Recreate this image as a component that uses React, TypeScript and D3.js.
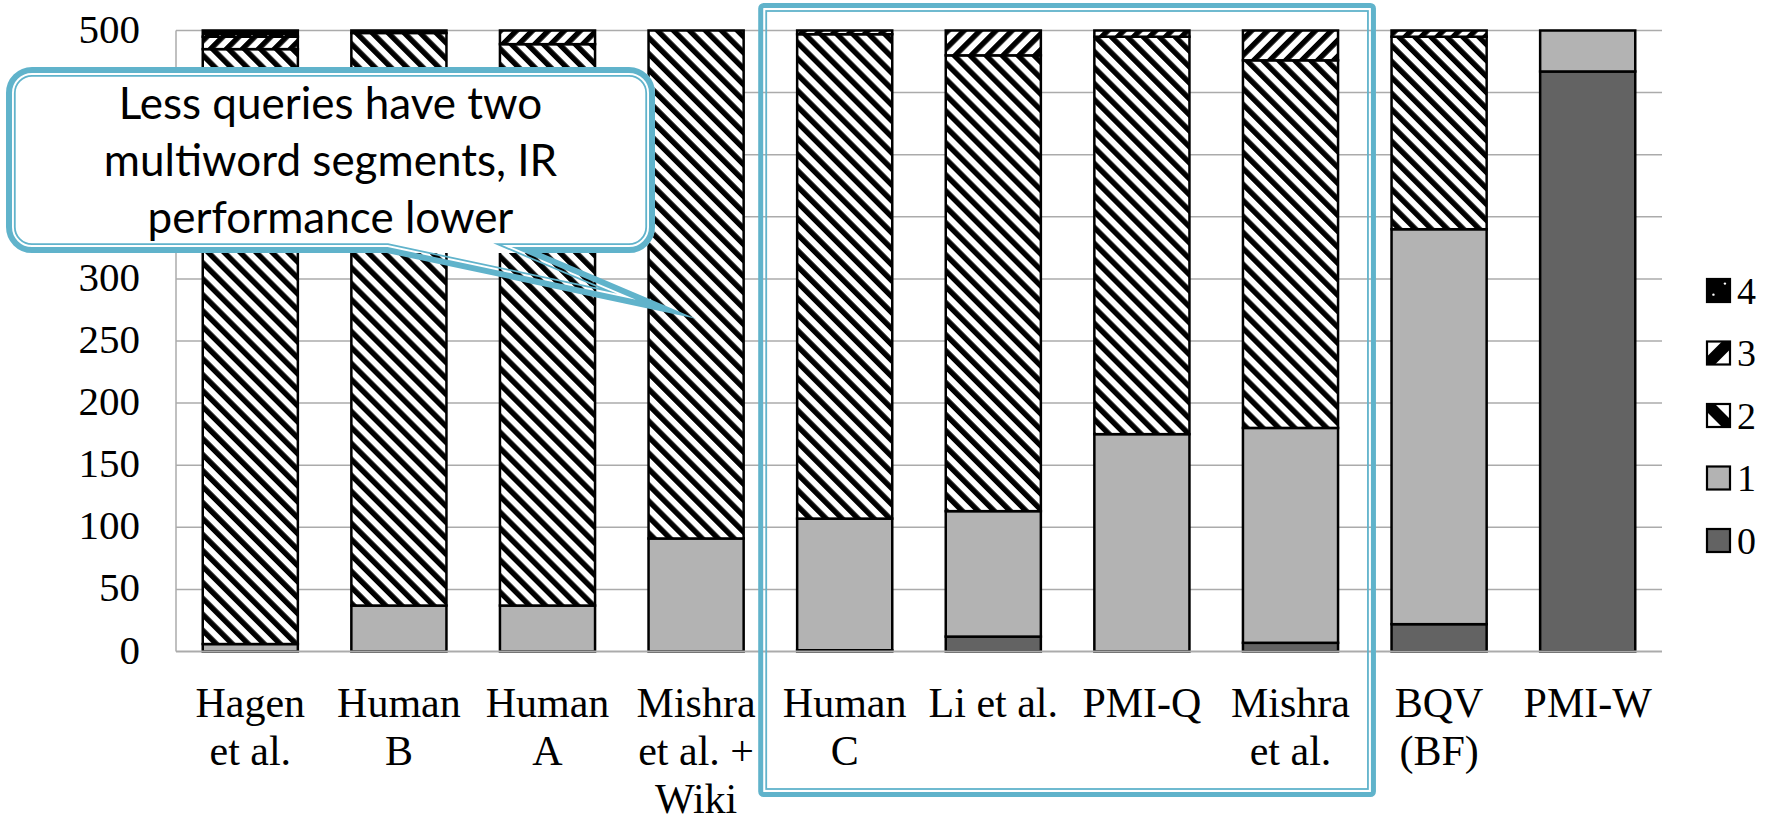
import React from "react";
import * as d3 from "d3";

// Number of multiword segments per query, per segmentation method (stacked to 500 queries)
const categories = [
  "Hagen et al.",
  "Human B",
  "Human A",
  "Mishra et al. + Wiki",
  "Human C",
  "Li et al.",
  "PMI-Q",
  "Mishra et al.",
  "BQV (BF)",
  "PMI-W",
];
const categoryLines = [
  ["Hagen", "et al."],
  ["Human", "B"],
  ["Human", "A"],
  ["Mishra", "et al. +", "Wiki"],
  ["Human", "C"],
  ["Li et al."],
  ["PMI-Q"],
  ["Mishra", "et al."],
  ["BQV", "(BF)"],
  ["PMI-W"],
];
const seriesKeys = ["0", "1", "2", "3", "4"];
const seg0 = [0, 0, 0, 0, 1, 12, 0, 7, 22, 467];
const seg1 = [6, 37, 37, 91, 106, 101, 175, 173, 318, 33];
const seg2 = [479, 461, 452, 409, 390, 367, 320, 296, 155, 0];
const seg3 = [10, 2, 11, 0, 3, 20, 5, 24, 5, 0];
const seg4 = [5, 0, 0, 0, 0, 0, 0, 0, 0, 0];
const yTicks = [0, 50, 100, 150, 200, 250, 300, 350, 400, 450, 500];
const highlightFrom = "Human C";
const highlightTo = "Mishra et al.";
const calloutLines = ["Less queries have two", "multiword segments, IR", "performance lower"];
const calloutCategory = "Mishra et al. + Wiki";
const calloutValue = 268;

const W = 1768;
const H = 822;
const SERIF = "'Liberation Serif', 'Times New Roman', serif";
const SANS = "Lato, 'Open Sans', sans-serif";
const BLUE = "#60b3cb";
const GRID = "#ababab";

const fills: Record<string, string> = {
  "0": "#636363",
  "1": "#b3b3b3",
  "2": "url(#hatch2)",
  "3": "url(#hatch3)",
  "4": "url(#dots4)",
};

type Pt = [number, number];
const cross = (a: Pt, b: Pt) => a[0] * b[1] - a[1] * b[0];
const unit = (x: number, y: number): Pt => {
  const l = Math.hypot(x, y);
  return [x / l, y / l];
};

type Box = { x0: number; y0: number; x1: number; y1: number; r: number; baseL: number; baseR: number };

// Rounded callout box with a wedge tail, inset by d from its outer edge
function calloutPath(box: Box, tip: Pt, d: number, withTail = true) {
  const X0 = box.x0 + d, Y0 = box.y0 + d, X1 = box.x1 - d, Y1 = box.y1 - d, R = box.r - d;
  const A: Pt = [box.baseL, box.y1];
  const B: Pt = [box.baseR, box.y1];
  const D1: Pt = [tip[0] - B[0], tip[1] - B[1]];
  const D2: Pt = [A[0] - tip[0], A[1] - tip[1]];
  const n1 = unit(-D1[1], D1[0]);
  const n2 = unit(-D2[1], D2[0]);
  const P1: Pt = [B[0] + d * n1[0], B[1] + d * n1[1]];
  const P2: Pt = [tip[0] + d * n2[0], tip[1] + d * n2[1]];
  const bx = P1[0] + (D1[0] * (Y1 - P1[1])) / D1[1];
  const ax = P2[0] + (D2[0] * (Y1 - P2[1])) / D2[1];
  const t = cross([P2[0] - P1[0], P2[1] - P1[1]], D2) / cross(D1, D2);
  const T: Pt = [P1[0] + t * D1[0], P1[1] + t * D1[1]];
  const tail = withTail ? `H${bx}L${T[0]},${T[1]}L${ax},${Y1}` : "";
  return (
    `M${X0 + R},${Y0}H${X1 - R}A${R},${R} 0 0 1 ${X1},${Y0 + R}` +
    `V${Y1 - R}A${R},${R} 0 0 1 ${X1 - R},${Y1}` +
    tail +
    `H${X0 + R}A${R},${R} 0 0 1 ${X0},${Y1 - R}V${Y0 + R}A${R},${R} 0 0 1 ${X0 + R},${Y0}Z`
  );
}

export default function App() {
  const rows = categories.map((c, i) => ({
    category: c,
    "0": seg0[i],
    "1": seg1[i],
    "2": seg2[i],
    "3": seg3[i],
    "4": seg4[i],
  }));
  const stacked = d3.stack<any>().keys(seriesKeys)(rows);

  const x = d3
    .scaleBand<string>()
    .domain(categories)
    .range([176, 1662])
    .paddingInner(0.36)
    .paddingOuter(0.18);
  const y = d3.scaleLinear().domain([0, 500]).range([651.5, 30.5]);
  const bw = x.bandwidth();
  const step = x.step();

  const hlLeft = (x(highlightFrom) as number) - step * 0.262;
  const hlRight = (x(highlightTo) as number) + bw + step * 0.255;

  const box: Box = { x0: 6, y0: 67, x1: 655, y1: 253, r: 26, baseL: 387, baseR: 541 };
  const tip: Pt = [(x(calloutCategory) as number) + bw / 2, y(calloutValue)];
  const cx = (box.x0 + box.x1) / 2;

  // tick labels that sit under the opaque callout body are not drawn
  const visibleTicks = yTicks.filter((t) => y(t) < box.y0 - 10 || y(t) > box.y1 + 10);

  const legendX = 1707;
  const legendSize = 23;
  const legendKeys = [...seriesKeys].reverse();
  const legendRow = (i: number) => 290.5 + 62.5 * i;

  return (
    <svg
      width={W}
      height={H}
      viewBox={`0 0 ${W} ${H}`}
      style={{ position: "absolute", left: 0, top: 0, display: "block", background: "#fff" }}
    >
      <defs>
        <pattern id="hatch2" patternUnits="userSpaceOnUse" width={11.3} height={11.3} patternTransform="rotate(-45)">
          <rect width={11.3} height={11.3} fill="#fff" />
          <rect width={5.4} height={11.3} fill="#000" />
        </pattern>
        <pattern id="hatch3" patternUnits="userSpaceOnUse" width={11.3} height={11.3} patternTransform="rotate(45)">
          <rect width={11.3} height={11.3} fill="#fff" />
          <rect width={5.4} height={11.3} fill="#000" />
        </pattern>
        <pattern id="dots4" patternUnits="userSpaceOnUse" width={16} height={16}>
          <rect width={16} height={16} fill="#000" />
          <circle cx={4} cy={12} r={1} fill="#fff" />
          <circle cx={12} cy={4} r={1} fill="#fff" />
        </pattern>
        <clipPath id="legClip2">
          <rect x={legendX} y={legendRow(2) - legendSize / 2} width={legendSize} height={legendSize} />
        </clipPath>
        <clipPath id="legClip3">
          <rect x={legendX} y={legendRow(1) - legendSize / 2} width={legendSize} height={legendSize} />
        </clipPath>
      </defs>

      {/* gridlines */}
      {yTicks
        .filter((t) => t > 0)
        .map((t) => (
          <line key={t} x1={176} x2={1662} y1={y(t)} y2={y(t)} stroke={GRID} strokeWidth={1.5} />
        ))}
      <line x1={176} x2={176} y1={y(500)} y2={y(0)} stroke={GRID} strokeWidth={1.5} />

      {/* stacked bars */}
      {stacked.map((s) => (
        <g key={s.key}>
          {s.map((d: any, i: number) =>
            d[1] - d[0] > 0 ? (
              <rect
                key={i}
                x={x(d.data.category)}
                width={bw}
                y={y(d[1])}
                height={y(d[0]) - y(d[1])}
                fill={fills[s.key]}
                stroke="#000"
                strokeWidth={2.5}
              />
            ) : null
          )}
        </g>
      ))}

      {/* category axis */}
      <line x1={176} x2={1662} y1={y(0)} y2={y(0)} stroke={GRID} strokeWidth={2.2} />

      {/* value axis labels */}
      {visibleTicks.map((t) => (
        <text key={t} x={140} y={y(t) + 12} textAnchor="end" fontFamily={SERIF} fontSize={41} fill="#000">
          {t}
        </text>
      ))}

      {/* category labels */}
      {categories.map((c, i) => (
        <text key={c} x={(x(c) as number) + bw / 2} textAnchor="middle" fontFamily={SERIF} fontSize={42} fill="#000">
          {categoryLines[i].map((ln, j) => (
            <tspan key={j} x={(x(c) as number) + bw / 2} y={717 + j * 48}>
              {ln}
            </tspan>
          ))}
        </text>
      ))}

      {/* legend */}
      {legendKeys.map((k, i) => {
        const cy = legendRow(i);
        const sy = cy - legendSize / 2;
        let swatch: React.ReactNode;
        if (k === "2" || k === "3") {
          const clip = k === "2" ? "url(#legClip2)" : "url(#legClip3)";
          const pts =
            k === "2"
              ? `${legendX - 4},${sy + 4} ${legendX + 4},${sy - 4} ${legendX + legendSize + 4},${sy + legendSize - 4} ${legendX + legendSize - 4},${sy + legendSize + 4}`
              : `${legendX - 4},${sy + legendSize - 4} ${legendX + 4},${sy + legendSize + 4} ${legendX + legendSize + 4},${sy + 4} ${legendX + legendSize - 4},${sy - 4}`;
          swatch = (
            <g>
              <rect x={legendX} y={sy} width={legendSize} height={legendSize} fill="#fff" />
              <polygon points={pts} fill="#000" clipPath={clip} />
              <rect x={legendX} y={sy} width={legendSize} height={legendSize} fill="none" stroke="#000" strokeWidth={2.2} />
            </g>
          );
        } else if (k === "4") {
          swatch = (
            <g>
              <rect x={legendX} y={sy} width={legendSize} height={legendSize} fill="#000" stroke="#000" strokeWidth={2.2} />
              <circle cx={legendX + legendSize * 0.78} cy={sy + legendSize * 0.2} r={1.2} fill="#fff" />
              <circle cx={legendX + legendSize * 0.28} cy={sy + legendSize * 0.68} r={1.2} fill="#fff" />
            </g>
          );
        } else {
          swatch = (
            <rect x={legendX} y={sy} width={legendSize} height={legendSize} fill={fills[k]} stroke="#000" strokeWidth={2.2} />
          );
        }
        return (
          <g key={k}>
            {swatch}
            <text x={1737} y={cy + 13} fontFamily={SERIF} fontSize={38} fill="#000">
              {k}
            </text>
          </g>
        );
      })}

      {/* highlight frame */}
      <rect
        x={hlLeft + 2.5}
        y={5.5}
        width={hlRight - hlLeft - 5}
        height={789}
        rx={3}
        fill="none"
        stroke={BLUE}
        strokeWidth={5}
      />
      <rect
        x={hlLeft + 8}
        y={11}
        width={hlRight - hlLeft - 16}
        height={778}
        fill="none"
        stroke={BLUE}
        strokeWidth={1.8}
      />

      {/* callout */}
      <path d={calloutPath(box, tip, 0, false)} fill="#fff" stroke="none" />
      <path
        d={calloutPath(box, tip, 3)}
        fill="none"
        stroke={BLUE}
        strokeWidth={6}
        strokeLinejoin="miter"
        strokeMiterlimit={14}
      />
      <path
        d={calloutPath(box, tip, 8.8)}
        fill="none"
        stroke={BLUE}
        strokeWidth={1.8}
        strokeLinejoin="miter"
        strokeMiterlimit={14}
      />
      {calloutLines.map((ln, i) => (
        <text key={i} x={cx} y={119 + i * 57} textAnchor="middle" fontFamily={SANS} fontSize={44} fill="#000">
          {ln}
        </text>
      ))}
    </svg>
  );
}
